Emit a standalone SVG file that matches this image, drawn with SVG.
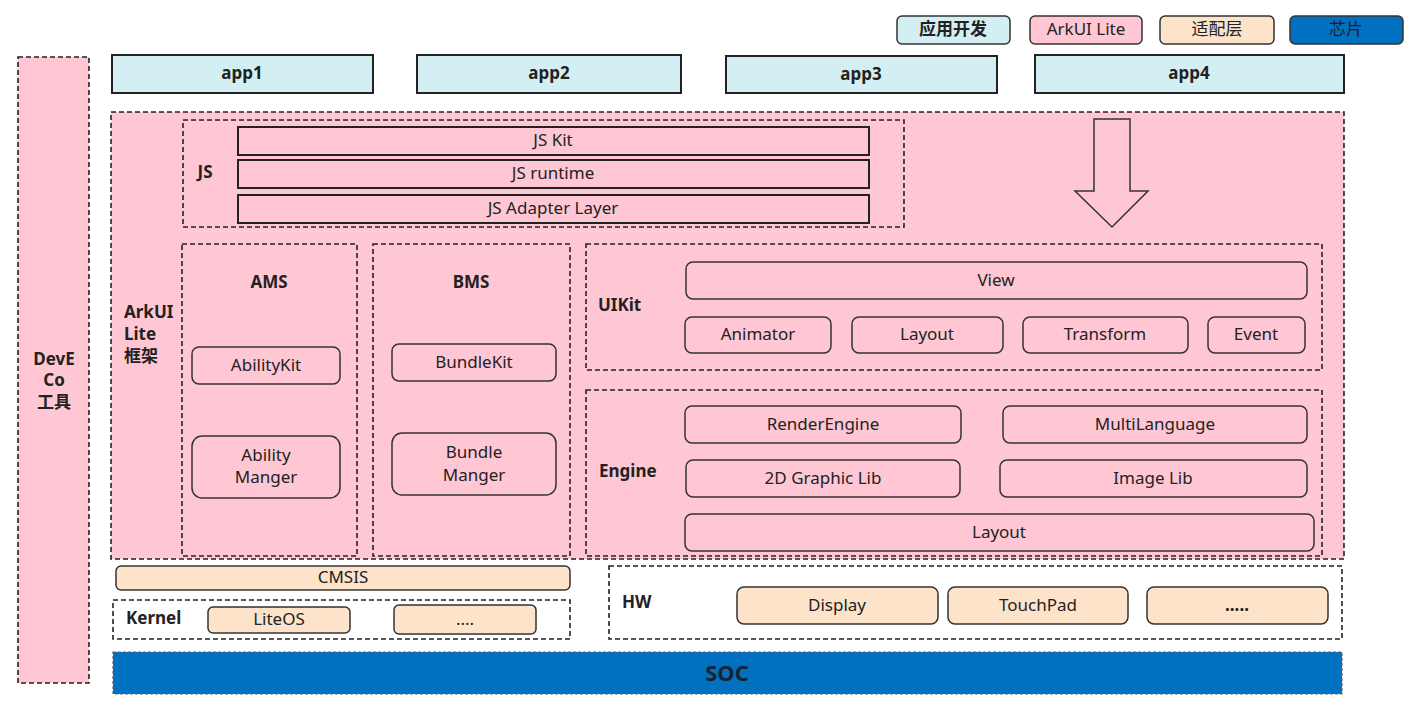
<svg xmlns="http://www.w3.org/2000/svg" width="1422" height="706" viewBox="0 0 1422 706">
<style>
text{font-family:"Noto Sans","Noto Sans CJK SC",sans-serif;font-size:17px;fill:#222;text-anchor:middle;dominant-baseline:central;transform:translateY(-1.5px)}
.b{font-weight:bold}
.l{text-anchor:start}
.dash{fill:#ffc7d3;stroke:#222;stroke-width:1.6;stroke-dasharray:5 3}
.dashw{fill:#fff;stroke:#222;stroke-width:1.6;stroke-dasharray:5 3}
.box{fill:#ffc7d3;stroke:#333;stroke-width:1.5}
.app{fill:#d4eff3;stroke:#222;stroke-width:2}
.js{fill:#ffc7d3;stroke:#222;stroke-width:2}
.peach{fill:#fde3c9;stroke:#333;stroke-width:1.5}
</style>
<rect width="1422" height="706" fill="#fff"/>
<g id="legend">
<rect x="897" y="16" width="113" height="28" rx="5" fill="#d4eff3" stroke="#333" stroke-width="1.5"/><text x="953" y="30" class="b">应用开发</text>
<rect x="1030" y="16" width="112" height="28" rx="5" fill="#ffc7d3" stroke="#333" stroke-width="1.5"/><text x="1086" y="30">ArkUI Lite</text>
<rect x="1160" y="16" width="114" height="28" rx="5" fill="#fde3c9" stroke="#333" stroke-width="1.5"/><text x="1217" y="30">适配层</text>
<rect x="1290" y="16" width="113" height="28" rx="5" fill="#0070c0" stroke="#333" stroke-width="1.5"/><text x="1346" y="30">芯片</text>
</g>
<g id="deveco"><rect x="18" y="57" width="71" height="626" class="dash"/><text x="54" y="360" class="b">DevE</text><text x="54" y="381" class="b">Co</text><text x="54" y="403" class="b">工具</text></g>
<g id="app1"><rect x="112" y="55" width="261" height="38" class="app"/><text x="242" y="74" class="b">app1</text></g>
<g id="app2"><rect x="417" y="55" width="264" height="38" class="app"/><text x="549" y="74" class="b">app2</text></g>
<g id="app3"><rect x="726" y="56" width="271" height="37" class="app"/><text x="861" y="75" class="b">app3</text></g>
<g id="app4"><rect x="1035" y="55" width="309" height="38" class="app"/><text x="1189" y="74" class="b">app4</text></g>
<g id="arkui"><rect x="111" y="112" width="1233" height="447" class="dash"/><text x="124" y="313" class="b l">ArkUI</text><text x="124" y="335" class="b l">Lite</text><text x="124" y="357" class="b l">框架</text></g>
<g id="js"><rect x="183" y="120" width="721" height="107" class="dash"/><text x="205" y="173" class="b">JS</text>
<rect x="238" y="127" width="631" height="28" class="js"/><text x="553" y="141">JS Kit</text>
<rect x="238" y="160" width="631" height="28" class="js"/><text x="553" y="174">JS runtime</text>
<rect x="238" y="195" width="631" height="28" class="js"/><text x="553" y="209">JS Adapter Layer</text></g>
<g id="connectors"><path d="M1094 119 H1130 V191 H1148 L1112 227 L1075 191 H1094 Z" fill="#ffc7d3" stroke="#333" stroke-width="1.5"/></g>
<g id="ams"><rect x="182" y="244" width="175" height="312" class="dash"/><text x="269" y="283" class="b">AMS</text>
<rect x="192" y="347" width="148" height="37" rx="7" class="box"/><text x="266" y="366">AbilityKit</text>
<rect x="192" y="436" width="148" height="62" rx="10" class="box"/><text x="266" y="456">Ability</text><text x="266" y="478">Manger</text></g>
<g id="bms"><rect x="373" y="244" width="197" height="312" class="dash"/><text x="471" y="283" class="b">BMS</text>
<rect x="392" y="344" width="164" height="37" rx="7" class="box"/><text x="474" y="363">BundleKit</text>
<rect x="392" y="433" width="164" height="62" rx="10" class="box"/><text x="474" y="453">Bundle</text><text x="474" y="476">Manger</text></g>
<g id="uikit"><rect x="586" y="244" width="736" height="126" class="dash"/><text x="598" y="306" class="b l">UIKit</text>
<rect x="686" y="262" width="621" height="37" rx="7" class="box"/><text x="996" y="281">View</text>
<rect x="685" y="317" width="146" height="36" rx="7" class="box"/><text x="758" y="335">Animator</text>
<rect x="852" y="317" width="151" height="36" rx="7" class="box"/><text x="927" y="335">Layout</text>
<rect x="1023" y="317" width="165" height="36" rx="7" class="box"/><text x="1105" y="335">Transform</text>
<rect x="1208" y="317" width="97" height="36" rx="7" class="box"/><text x="1256" y="335">Event</text></g>
<g id="engine"><rect x="586" y="390" width="736" height="166" class="dash"/><text x="599" y="472" class="b l">Engine</text>
<rect x="685" y="406" width="276" height="37" rx="7" class="box"/><text x="823" y="425">RenderEngine</text>
<rect x="1003" y="406" width="304" height="37" rx="7" class="box"/><text x="1155" y="425">MultiLanguage</text>
<rect x="686" y="460" width="274" height="37" rx="7" class="box"/><text x="823" y="479">2D Graphic Lib</text>
<rect x="1000" y="460" width="307" height="37" rx="7" class="box"/><text x="1153" y="479">Image Lib</text>
<rect x="685" y="514" width="629" height="37" rx="7" class="box"/><text x="999" y="533">Layout</text></g>
<g id="cmsis"><rect x="116" y="566" width="454" height="24" rx="5" class="peach"/><text x="343" y="578">CMSIS</text></g>
<g id="kernel"><rect x="113" y="600" width="457" height="39" class="dashw"/><text x="126" y="619" class="b l">Kernel</text>
<rect x="208" y="607" width="142" height="26" rx="5" class="peach"/><text x="279" y="620">LiteOS</text>
<rect x="394" y="605" width="142" height="29" rx="5" class="peach"/><text x="465" y="620">....</text></g>
<g id="hw"><rect x="609" y="566" width="733" height="73" class="dashw"/><text x="622" y="603" class="b l">HW</text>
<rect x="737" y="587" width="201" height="37" rx="7" class="peach"/><text x="837" y="606">Display</text>
<rect x="948" y="587" width="180" height="37" rx="7" class="peach"/><text x="1038" y="606">TouchPad</text>
<rect x="1147" y="587" width="181" height="37" rx="7" class="peach"/><text x="1237" y="606" class="b">.....</text></g>
<g id="soc"><rect x="113" y="652" width="1229" height="42" fill="#0070c0" stroke="#666" stroke-width="1.2" stroke-dasharray="3 2"/><text x="727" y="673" class="b" style="font-size:22px;fill:#1a2230">SOC</text></g>
</svg>
